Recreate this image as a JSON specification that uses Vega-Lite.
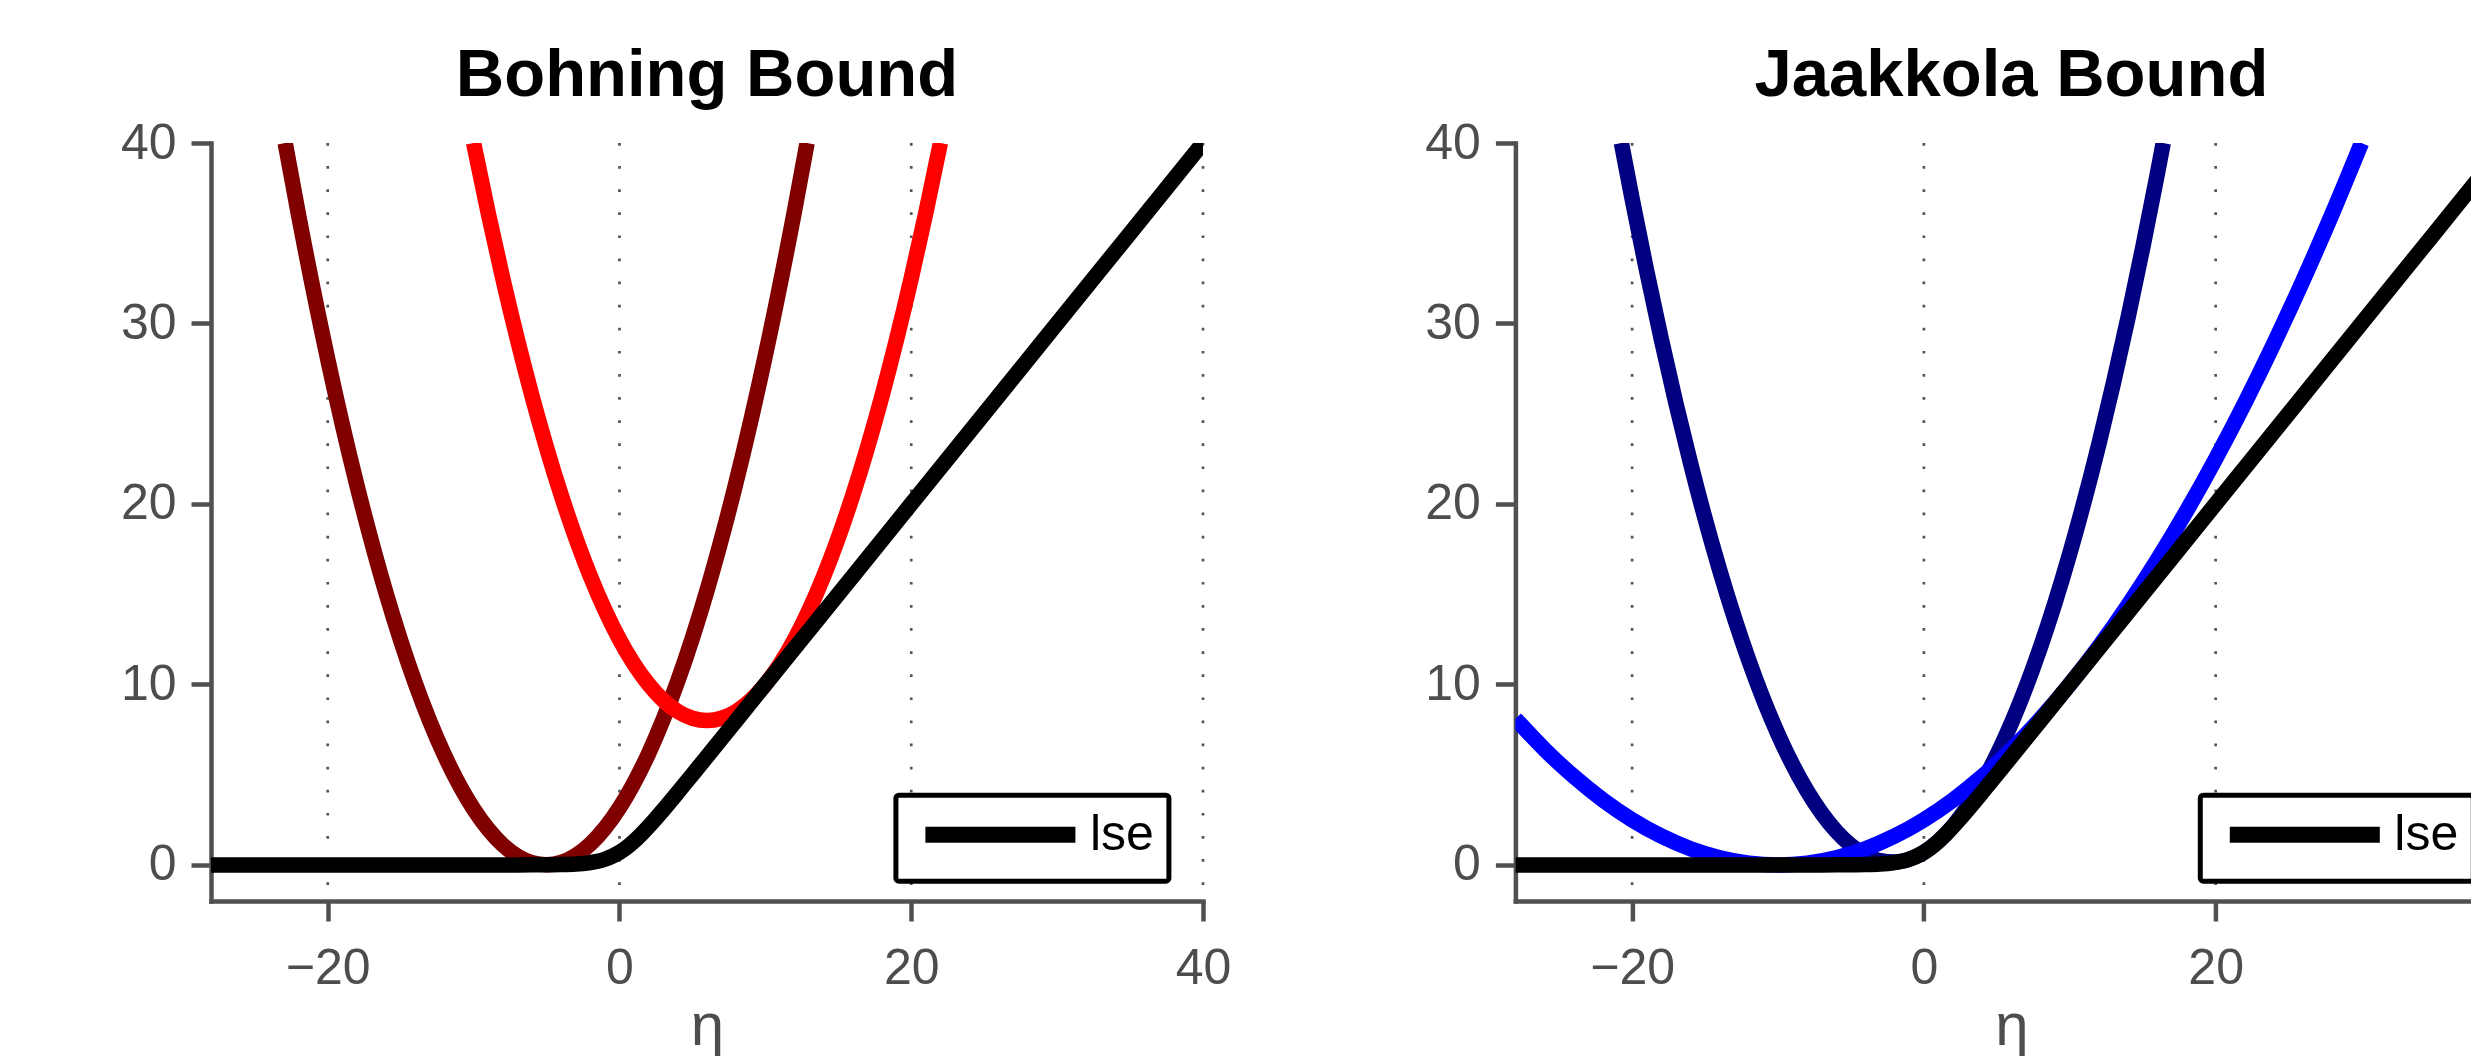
{
  "$schema": "https://vega.github.io/schema/vega-lite/v6.json",
  "background": "white",
  "padding": {"left": 120, "top": 42, "right": 0, "bottom": 0},
  "bounds": "flush",
  "spacing": 312.4,
  "datasets": {
    "grid": [{"eta": -20}, {"eta": 0}, {"eta": 20}, {"eta": 40}],
    "lse": [
      {"eta": -28, "value": 0, "series": "lse"}, {"eta": -20, "value": 0, "series": "lse"},
      {"eta": -10, "value": 0.00005, "series": "lse"}, {"eta": -8, "value": 0.00034, "series": "lse"},
      {"eta": -6, "value": 0.00248, "series": "lse"}, {"eta": -5, "value": 0.00672, "series": "lse"},
      {"eta": -4, "value": 0.01815, "series": "lse"}, {"eta": -3, "value": 0.04859, "series": "lse"},
      {"eta": -2.5, "value": 0.07889, "series": "lse"}, {"eta": -2, "value": 0.12693, "series": "lse"},
      {"eta": -1.5, "value": 0.20141, "series": "lse"}, {"eta": -1, "value": 0.31326, "series": "lse"},
      {"eta": -0.5, "value": 0.47408, "series": "lse"}, {"eta": 0, "value": 0.69315, "series": "lse"},
      {"eta": 0.5, "value": 0.97408, "series": "lse"}, {"eta": 1, "value": 1.31326, "series": "lse"},
      {"eta": 1.5, "value": 1.70141, "series": "lse"}, {"eta": 2, "value": 2.12693, "series": "lse"},
      {"eta": 2.5, "value": 2.57889, "series": "lse"}, {"eta": 3, "value": 3.04859, "series": "lse"},
      {"eta": 4, "value": 4.01815, "series": "lse"}, {"eta": 5, "value": 5.00672, "series": "lse"},
      {"eta": 6, "value": 6.00248, "series": "lse"}, {"eta": 8, "value": 8.00034, "series": "lse"},
      {"eta": 10, "value": 10.00005, "series": "lse"}, {"eta": 20, "value": 20, "series": "lse"},
      {"eta": 30, "value": 30, "series": "lse"}, {"eta": 40, "value": 40, "series": "lse"}
    ],
    "bohning_m5": [
      {"eta": -22.914, "value": 40}, {"eta": -22, "value": 36.018}, {"eta": -20, "value": 28.031},
      {"eta": -18, "value": 21.045}, {"eta": -16, "value": 15.058}, {"eta": -14, "value": 10.071},
      {"eta": -12, "value": 6.085}, {"eta": -10, "value": 3.098}, {"eta": -8, "value": 1.112},
      {"eta": -7, "value": 0.493}, {"eta": -6, "value": 0.125}, {"eta": -5, "value": 0.0067},
      {"eta": -4, "value": 0.138}, {"eta": -3, "value": 0.52}, {"eta": -2, "value": 1.152},
      {"eta": 0, "value": 3.165}, {"eta": 2, "value": 6.179}, {"eta": 4, "value": 10.192},
      {"eta": 6, "value": 15.206}, {"eta": 8, "value": 21.219}, {"eta": 10, "value": 28.232},
      {"eta": 12, "value": 36.246}, {"eta": 12.86, "value": 40}
    ],
    "bohning_10": [
      {"eta": -10, "value": 40}, {"eta": -9, "value": 36.125}, {"eta": -8, "value": 32.5},
      {"eta": -6, "value": 26}, {"eta": -4, "value": 20.5}, {"eta": -2, "value": 16},
      {"eta": 0, "value": 12.5}, {"eta": 1, "value": 11.125}, {"eta": 2, "value": 10},
      {"eta": 3, "value": 9.125}, {"eta": 4, "value": 8.5}, {"eta": 5, "value": 8.125},
      {"eta": 6, "value": 8}, {"eta": 7, "value": 8.125}, {"eta": 8, "value": 8.5},
      {"eta": 9, "value": 9.125}, {"eta": 10, "value": 10}, {"eta": 11, "value": 11.125},
      {"eta": 12, "value": 12.5}, {"eta": 14, "value": 16}, {"eta": 16, "value": 20.5},
      {"eta": 18, "value": 26}, {"eta": 20, "value": 32.5}, {"eta": 21, "value": 36.125},
      {"eta": 22, "value": 40}
    ],
    "jaakkola_1": [
      {"eta": -20.735, "value": 40}, {"eta": -20, "value": 36.909}, {"eta": -19, "value": 32.904},
      {"eta": -18, "value": 29.129}, {"eta": -17, "value": 25.586}, {"eta": -16, "value": 22.273},
      {"eta": -14, "value": 16.341}, {"eta": -12, "value": 11.334}, {"eta": -10, "value": 7.251},
      {"eta": -8, "value": 4.092}, {"eta": -6, "value": 1.857}, {"eta": -4, "value": 0.546},
      {"eta": -3, "value": 0.2375}, {"eta": -2, "value": 0.1598}, {"eta": -1, "value": 0.3132},
      {"eta": 0, "value": 0.6977}, {"eta": 1, "value": 1.3133}, {"eta": 2, "value": 2.1598},
      {"eta": 4, "value": 4.546}, {"eta": 6, "value": 7.857}, {"eta": 8, "value": 12.092},
      {"eta": 10, "value": 17.251}, {"eta": 12, "value": 23.334}, {"eta": 13, "value": 26.722},
      {"eta": 14, "value": 30.341}, {"eta": 15, "value": 34.192}, {"eta": 16, "value": 38.273},
      {"eta": 16.407, "value": 40}
    ],
    "jaakkola_10": [
      {"eta": -28, "value": 8.1}, {"eta": -26, "value": 6.4}, {"eta": -24, "value": 4.9},
      {"eta": -22, "value": 3.6}, {"eta": -20, "value": 2.5}, {"eta": -18, "value": 1.6},
      {"eta": -16, "value": 0.9}, {"eta": -14, "value": 0.4}, {"eta": -12, "value": 0.1},
      {"eta": -10, "value": 0}, {"eta": -8, "value": 0.1}, {"eta": -6, "value": 0.4},
      {"eta": -4, "value": 0.9}, {"eta": -2, "value": 1.6}, {"eta": 0, "value": 2.5},
      {"eta": 2, "value": 3.6}, {"eta": 4, "value": 4.9}, {"eta": 6, "value": 6.4},
      {"eta": 8, "value": 8.1}, {"eta": 10, "value": 10}, {"eta": 12, "value": 12.1},
      {"eta": 14, "value": 14.4}, {"eta": 16, "value": 16.9}, {"eta": 18, "value": 19.6},
      {"eta": 20, "value": 22.5}, {"eta": 22, "value": 25.6}, {"eta": 24, "value": 28.9},
      {"eta": 26, "value": 32.4}, {"eta": 28, "value": 36.1}, {"eta": 30, "value": 40}
    ]
  },
  "hconcat": [
    {
      "title": {"text": "Bohning Bound", "font": "Liberation Sans", "fontSize": 67, "fontWeight": "bold", "color": "black", "anchor": "middle", "offset": 8},
      "width": 992,
      "height": 758,
      "encoding": {
        "x": {"field": "eta", "type": "quantitative", "scale": {"domain": [-28, 40], "nice": false, "zero": false},
              "axis": {"values": [-20, 0, 20, 40], "title": "η", "labelPadding": 22, "titlePadding": 4}}
      },
      "layer": [
        {"data": {"name": "grid"}, "mark": {"type": "rule", "color": "#555555", "strokeWidth": 2.7, "strokeDash": [2.7, 20.4]}},
        {"data": {"name": "bohning_m5"}, "mark": {"type": "line", "color": "#800000", "strokeWidth": 15.5, "clip": true, "interpolate": "monotone"},
         "encoding": {"y": {"field": "value", "type": "quantitative", "scale": {"domain": [-2, 40], "nice": false, "zero": false}, "axis": {"values": [0, 10, 20, 30, 40], "title": null, "labelPadding": 15}}}},
        {"data": {"name": "bohning_10"}, "mark": {"type": "line", "color": "#ff0000", "strokeWidth": 15.5, "clip": true, "interpolate": "monotone"},
         "encoding": {"y": {"field": "value", "type": "quantitative"}}},
        {"data": {"name": "lse"}, "mark": {"type": "line", "strokeWidth": 15.5, "clip": true, "interpolate": "monotone"},
         "encoding": {"y": {"field": "value", "type": "quantitative"},
                      "color": {"field": "series", "type": "nominal", "scale": {"domain": ["lse"], "range": ["black"]},
                                "legend": {"orient": "none", "legendX": 684.9, "legendY": 652.2, "title": null}}}}
      ]
    },
    {
      "title": {"text": "Jaakkola Bound", "font": "Liberation Sans", "fontSize": 67, "fontWeight": "bold", "color": "black", "anchor": "middle", "offset": 8},
      "width": 992,
      "height": 758,
      "encoding": {
        "x": {"field": "eta", "type": "quantitative", "scale": {"domain": [-28, 40], "nice": false, "zero": false},
              "axis": {"values": [-20, 0, 20], "title": "η", "labelPadding": 22, "titlePadding": 4}}
      },
      "layer": [
        {"data": {"name": "grid"}, "mark": {"type": "rule", "color": "#555555", "strokeWidth": 2.7, "strokeDash": [2.7, 20.4]}},
        {"data": {"name": "jaakkola_1"}, "mark": {"type": "line", "color": "#000080", "strokeWidth": 15.5, "clip": true, "interpolate": "monotone"},
         "encoding": {"y": {"field": "value", "type": "quantitative", "scale": {"domain": [-2, 40], "nice": false, "zero": false}, "axis": {"values": [0, 10, 20, 30, 40], "title": null, "labelPadding": 15}}}},
        {"data": {"name": "jaakkola_10"}, "mark": {"type": "line", "color": "#0000ff", "strokeWidth": 15.5, "clip": true, "interpolate": "monotone"},
         "encoding": {"y": {"field": "value", "type": "quantitative"}}},
        {"data": {"name": "lse"}, "mark": {"type": "line", "strokeWidth": 15.5, "clip": true, "interpolate": "monotone"},
         "encoding": {"y": {"field": "value", "type": "quantitative"},
                      "color": {"field": "series", "type": "nominal", "scale": {"domain": ["lse"], "range": ["black"]},
                                "legend": {"orient": "none", "legendX": 684.9, "legendY": 652.2, "title": null}}}}
      ]
    }
  ],
  "resolve": {"scale": {"x": "independent", "y": "independent", "color": "independent"}, "legend": {"color": "independent"}},
  "config": {
    "view": {"stroke": null},
    "axis": {
      "grid": false,
      "domainColor": "#505050", "domainWidth": 4.5, "domainCap": "square",
      "tickColor": "#505050", "tickWidth": 4.5, "tickSize": 20,
      "labelFont": "Liberation Sans", "labelFontSize": 50, "labelColor": "#4d4d4d",
      "labelFlush": false, "labelOverlap": false,
      "titleFont": "Liberation Sans", "titleFontSize": 60, "titleColor": "#4d4d4d", "titleFontWeight": "normal"
    },
    "legend": {
      "padding": 14.5,
      "strokeColor": "black", "strokeWidth": 5, "fillColor": "white", "cornerRadius": 3,
      "symbolType": "M-2,0H28", "symbolSize": 100, "symbolStrokeWidth": 16,
      "labelFont": "Liberation Sans", "labelFontSize": 50, "labelColor": "black", "labelOffset": 129.5,
      "labelExpr": "datum.label + '\u2009'"
    }
  }
}
